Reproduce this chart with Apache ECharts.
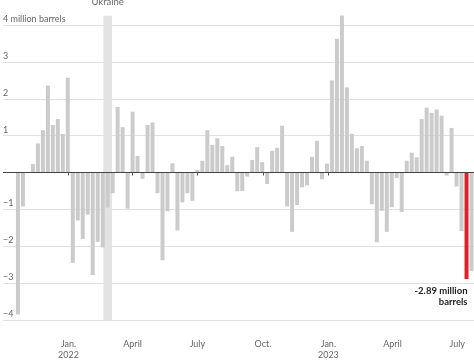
<!DOCTYPE html>
<html>
<head>
<meta charset="utf-8">
<style>
  html, body { margin: 0; padding: 0; background: #fff; }
  #chart { width: 474px; height: 362px; }
</style>
<script src="https://cdn.jsdelivr.net/npm/echarts@6/dist/echarts.min.js"></script>
</head>
<body>
<div id="chart"></div>
<script>
// Week-ending date of the first bar; one bar per week after that
const firstWeek = '2021-10-22';
// Weekly change, million barrels
const weeklyChange = [
  -3.85, -0.92, 0, 0.23, 0.79, 1.15, 2.36, 1.29, 1.45, 1.05,
  2.57, -2.45, -1.30, -1.80, -1.14, -2.78, -1.88, -2.03, -0.95, -0.56,
  1.78, 1.23, -0.98, 1.65, 0.45, -0.17, 1.29, 1.36, -0.56, -2.38,
  -1.05, 0.25, -1.57, -0.81, -0.56, -0.77, 0.07, 0.32, 1.15, 0.75,
  0.93, 0.72, 0.20, 0.43, -0.51, -0.50, -0.11, 0.34, 0.69, 0.28,
  -0.31, 0.59, 0.67, 1.27, -0.92, -1.61, -0.88, -0.40, -0.35, 0.43,
  0.86, -0.18, 0.24, 2.50, 3.63, 4.26, 2.31, 1.05, 0.66, 0.72,
  0.32, -0.86, -1.89, -1.04, -1.61, -0.94, -0.15, -1.07, 0.32, 0.54,
  0.41, 1.45, 1.76, 1.62, 1.71, 1.54, -0.08, 1.21, -0.38, -1.59,
  -2.89, -2.67
];
const highlightIndex = 90;
const highlightLabel = '-2.89 million\nbarrels';

const tickDates = ['2022-01-01', '2022-04-01', '2022-07-01', '2022-10-01', '2023-01-01', '2023-04-01', '2023-07-01'];
const tickLabels = ['Jan.\n2022', 'April', 'July', 'Oct.', 'Jan.\n2023', 'April', 'July'];

const yTicks = [-4, -3, -2, -1, 0, 1, 2, 3, 4];
const yTickLabels = ['−4', '−3', '−2', '−1', '', '1', '2', '3', '4 million barrels'];

const ukraineStart = '2022-02-19';
const ukraineEnd = '2022-03-03';
const ukraineTop = 4.25;
const ukraineLabel = 'Ukraine';

const DAY = 86400000;
const t0 = Date.parse(firstWeek);
const dayOf = s => (Date.parse(s) - t0) / DAY;

const tickDays = tickDates.map(dayOf);
const FONT = 'Lato';
const barData = weeklyChange.map((v, i) => {
  const item = { value: [i * 7, v] };
  if (i === highlightIndex) {
    item.itemStyle = { color: '#df2027' };
    item.label = {
      show: true, position: 'bottom', align: 'right', distance: 5, offset: [1, 1],
      formatter: highlightLabel, fontFamily: FONT, fontWeight: 'bold',
      fontSize: 9.5, lineHeight: 11, color: '#222'
    };
  }
  return item;
});

const chart = echarts.init(document.getElementById('chart'), null, { renderer: 'canvas' });
chart.setOption({
  animation: false,
  grid: { left: 0, right: 0, top: 14, bottom: 42, containLabel: false },
  xAxis: {
    type: 'value', min: -21, max: 640.5, offset: 11,
    axisLine: { show: false },
    splitLine: { show: false },
    axisTick: { show: true, length: 3, customValues: tickDays, lineStyle: { color: '#555' } },
    axisLabel: {
      customValues: tickDays, margin: 8, fontFamily: FONT, fontSize: 9, lineHeight: 11,
      color: '#666',
      formatter: v => { const k = tickDays.findIndex(d => Math.abs(d - v) < 0.01); return k >= 0 ? tickLabels[k] : ''; }
    }
  },
  yAxis: {
    type: 'value', min: -4, max: 4.3, interval: 1,
    axisLine: { show: false }, axisTick: { show: false },
    splitLine: { showMaxLine: false, lineStyle: { color: '#e0e0e0', width: 1 } },
    axisLabel: {
      inside: true, margin: 0, align: 'left', verticalAlign: 'bottom', lineHeight: 12,
      showMaxLabel: false,
      fontFamily: FONT, fontSize: 9, color: '#666',
      formatter: v => { const k = yTicks.indexOf(v); return k >= 0 ? yTickLabels[k] : ''; }
    }
  },
  series: [
    {
      type: 'line', data: [], z: 1, clip: false, silent: true,
      markArea: {
        silent: true,
        itemStyle: { color: '#e3e3e3' },
        label: { show: true, position: 'top', distance: 9, color: '#666', fontFamily: FONT, fontSize: 9.5 },
        data: [[{ name: ukraineLabel, xAxis: dayOf(ukraineStart), yAxis: -4 }, { xAxis: dayOf(ukraineEnd), yAxis: ukraineTop }]]
      }
    },
    {
      type: 'bar', z: 2, barWidth: 4,
      itemStyle: { color: '#cbcbcb' },
      data: barData,
      markLine: {
        silent: true, symbol: 'none', animation: false,
        label: { show: false },
        lineStyle: { color: '#444', width: 1, type: 'solid' },
        data: [{ yAxis: 0 }]
      }
    }
  ]
});
</script>
</body>
</html>
